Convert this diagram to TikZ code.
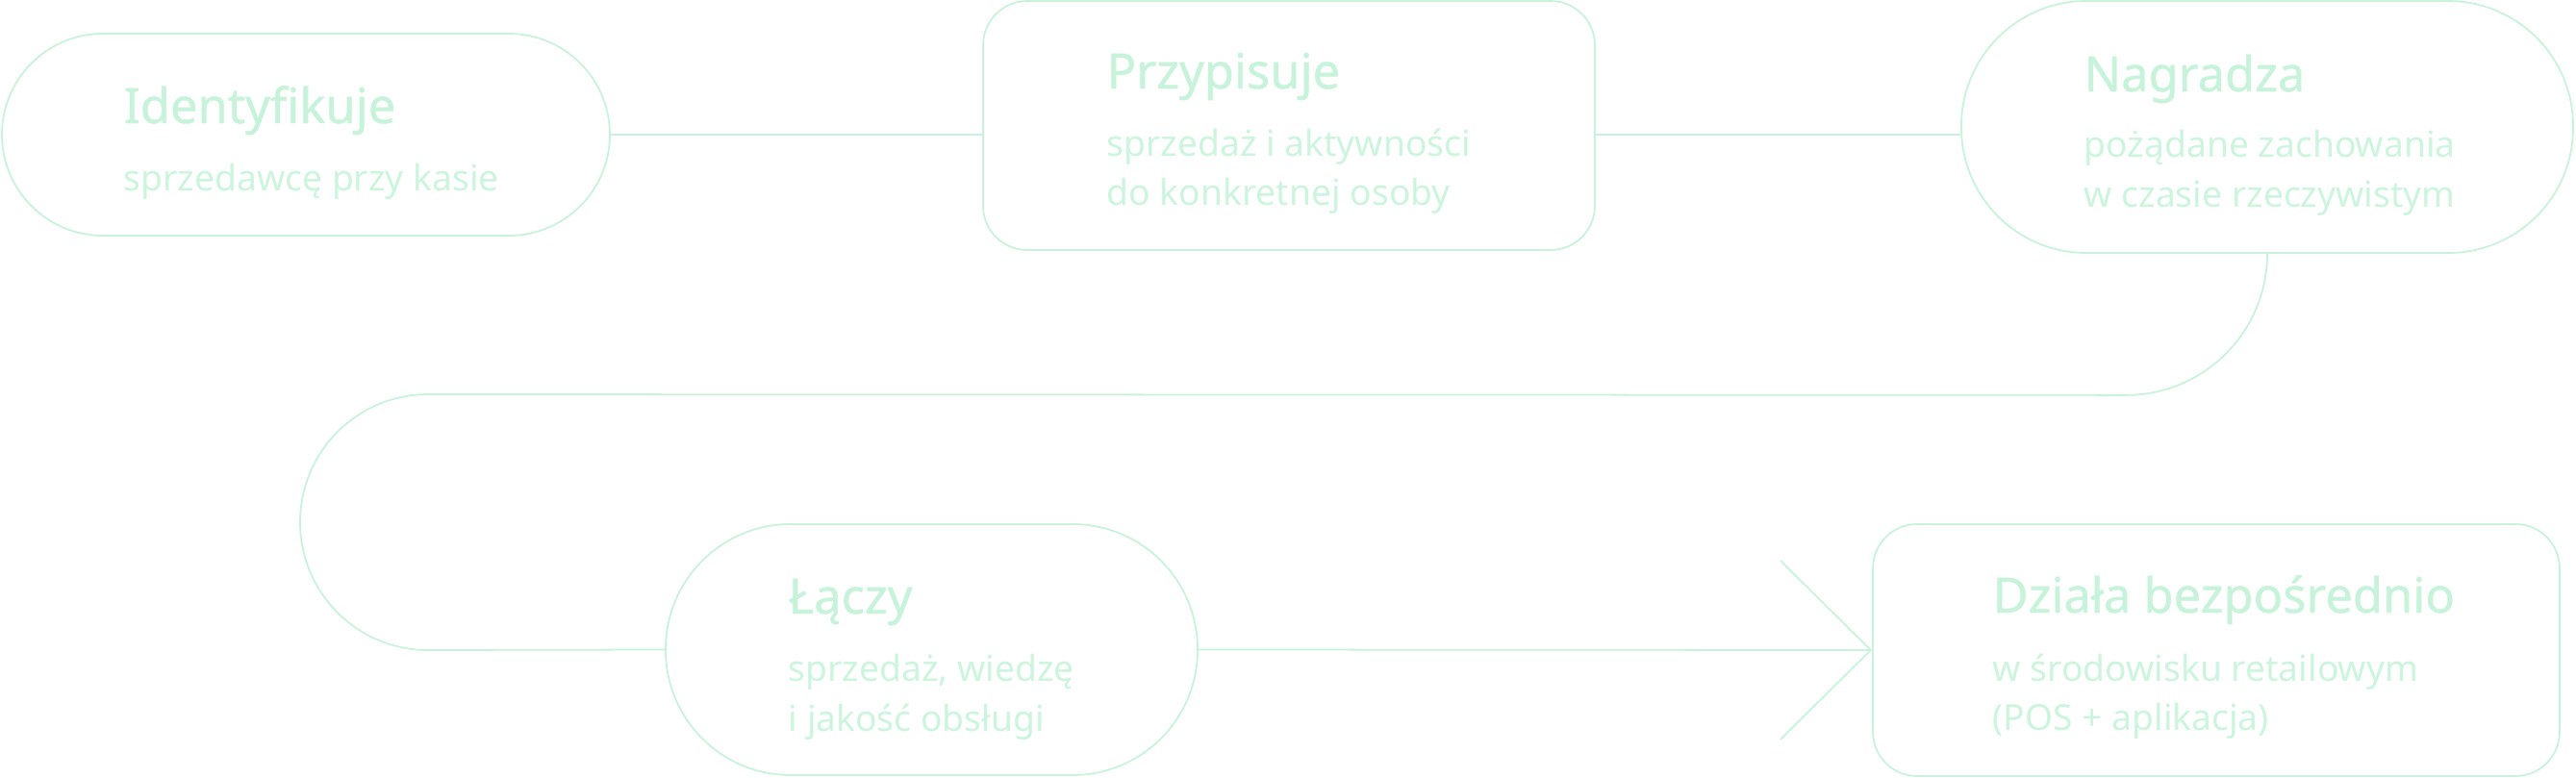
\documentclass[tikz,border=0pt]{standalone}
\usepackage{fontspec}
\setmainfont{Noto Sans}
\newfontfamily\ttlfont{Noto Sans}[FakeBold=0.8]
\usepackage{xcolor}
\usepackage{tikz}
\usetikzlibrary{arrows.meta}
\definecolor{mint}{RGB}{198,243,217}
\definecolor{mintsub}{RGB}{204,245,222}

\begin{document}
\begin{tikzpicture}[
                box/.style={draw=mint, line width=0.5pt},
                pill/.style={box, rounded corners=1.3cm},
                kader/.style={box, rounded corners=0.46cm},
                ttl/.style={anchor=base west, text=mint, font=\ttlfont\fontsize{14.4}{16}\selectfont, inner sep=0pt},
                sub/.style={anchor=base west, text=mintsub, font=\fontsize{10.6}{12}\selectfont, inner sep=0pt},
                ln/.style={draw=mint, line width=0.5pt}]

            \useasboundingbox (0,0) rectangle (26.78,-8.08);

            % bovenste rij
            \node[pill, rounded corners=1.05cm, minimum width=6.32cm, minimum height=2.1cm] (ident) at (3.18, -1.40) {};
            \node[kader, minimum width=6.36cm, minimum height=2.59cm] (przyp) at (13.40, -1.305) {};
            \node[pill, minimum width=6.36cm, minimum height=2.62cm] (nagr) at (23.57, -1.32) {};

            % onderste rij
            \node[pill, minimum width=5.53cm, minimum height=2.61cm] (lacz) at (9.685, -6.755) {};
            \node[kader, minimum width=7.14cm, minimum height=2.62cm] (dziala) at (23.04, -6.76) {};

            % teksten
            \node[ttl] (identT) at (1.28, -1.28) {Identyfikuje};
            \node[sub] (identS) at (1.28, -1.98) {sprzedawcę przy kasie};

            \node[ttl] (przypT) at (11.50, -0.92) {Przypisuje};
            \node[sub] (przypS) at (11.50, -1.62) {sprzedaż i aktywności};
            \node[sub] (przypS2) at (11.50, -2.13) {do konkretnej osoby};

            \node[ttl] (nagrT) at (21.66, -0.95) {Nagradza};
            \node[sub] (nagrS) at (21.66, -1.63) {pożądane zachowania};
            \node[sub] (nagrS2) at (21.66, -2.15) {w czasie rzeczywistym};

            \node[ttl] (laczT) at (8.19, -6.38) {Łączy};
            \node[sub] (laczS) at (8.19, -7.08) {sprzedaż, wiedzę};
            \node[sub] (laczS2) at (8.19, -7.60) {i jakość obsługi};

            \node[ttl] (dzialaT) at (20.71, -6.37) {Działa bezpośrednio};
            \node[sub] (dzialaS) at (20.71, -7.08) {w środowisku retailowym};
            \node[sub] (dzialaS2) at (20.71, -7.59) {(POS + aplikacja)};

            % verbindingen
            \coordinate (bocht) at (4.45, -4.10);
            \draw[ln] (ident.east) -- (ident.east -| przyp.west);
            \draw[ln] (przyp.east |- ident.east) -- (nagr.west |- ident.east);
            \draw[ln] (nagr.south) arc[start angle=0, end angle=-90, radius=1.47]
                -- (bocht) arc[start angle=90, end angle=270, radius=1.33] -- (lacz.west);
            \draw[ln, -{Straight Barb[length=0.94cm, width=1.86cm]}] (lacz.east) -- (dziala.west);

        \end{tikzpicture}
\end{document}
